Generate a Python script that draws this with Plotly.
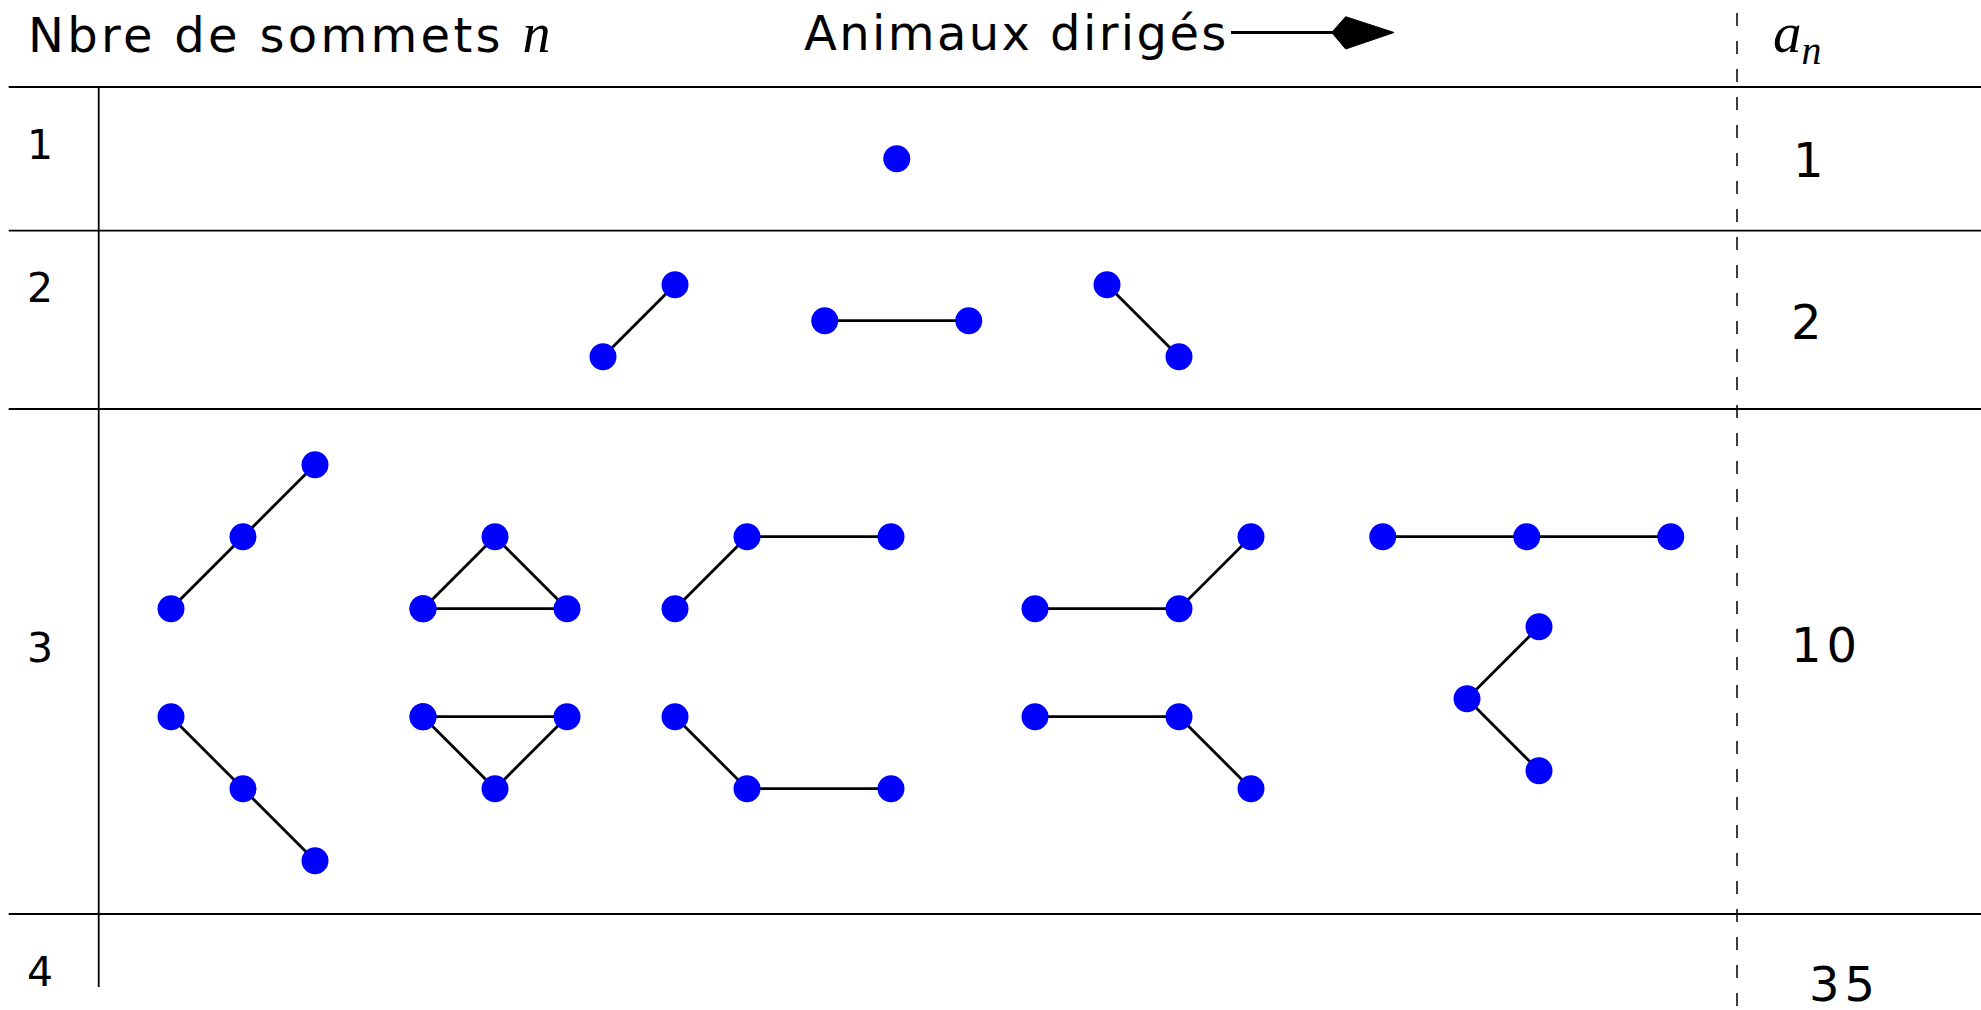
import plotly.graph_objects as go

# ---------------- canvas / grid (1 grid unit = 72 px) ----------------
W, H = 1981, 1010
UNIT = 72.0
X0_PX, Y0_PX = 99.0, 932.7          # pixel position of grid origin


def ux(px):
    return (px - X0_PX) / UNIT


def uy(py):
    return (Y0_PX - py) / UNIT


x_range = [ux(0), ux(W)]
y_range = [uy(H), uy(0)]

# ---------------- data ----------------
row_labels = ["1", "2", "3", "4"]              # n
row_label_y = [145, 288, 648, 972]              # px centres
counts = ["1", "2", "10", "35"]                 # a_n
count_x = [1792, 1790, 1790, 1808]              # px left
count_y = [160, 321.7, 645, 984]                # px centres

# animals (node paths in grid units); consecutive nodes are joined
row1_x = [[11.08]]
row1_y = [[10.75]]

row2_x = [[7.0, 8.0], [10.08, 12.08], [14.0, 15.0]]
row2_y = [[8.0, 9.0], [8.5, 8.5], [9.0, 8.0]]

row3_x = [
    [1, 2, 3], [1, 2, 3],
    [4.5, 5.5, 6.5, 4.5], [4.5, 6.5, 5.5, 4.5],
    [8, 9, 11], [8, 9, 11],
    [13, 15, 16], [13, 15, 16],
    [17.83, 19.83, 21.83], [20, 19, 20],
]
row3_y = [
    [4.5, 5.5, 6.5], [3, 2, 1],
    [4.5, 5.5, 4.5, 4.5], [3, 3, 2, 3],
    [4.5, 5.5, 5.5], [3, 2, 2],
    [4.5, 4.5, 5.5], [3, 3, 2],
    [5.5, 5.5, 5.5], [4.25, 3.25, 2.25],
]

# table rules
hline_y = [uy(87), uy(230.7), uy(409), uy(914)]
hline_x0 = ux(8.7)
vline_x = ux(98.7)
vline_y = [uy(87), uy(987)]
dash_x = ux(1737)
dash_y = [uy(13), uy(H) - 0.2]

# header arrow
arrow_line_x = [ux(1231), ux(1332)]
arrow_line_y = [uy(32.5), uy(32.5)]
arrow_head_x = [ux(1331.7), ux(1345.7), ux(1394), ux(1345.7), ux(1331.7)]
arrow_head_y = [uy(32.5), uy(16.7), uy(32.5), uy(49), uy(32.5)]

BLUE = "#0000ff"
fig = go.Figure()

# table rules
shapes = []
for y in hline_y:
    shapes.append(dict(type="line", xref="x", yref="y", x0=hline_x0, x1=x_range[1],
                       y0=y, y1=y, line=dict(color="black", width=1.8), layer="below"))
shapes.append(dict(type="line", xref="x", yref="y", x0=vline_x, x1=vline_x,
                   y0=vline_y[0], y1=vline_y[1], line=dict(color="black", width=1.8), layer="below"))
shapes.append(dict(type="line", xref="x", yref="y", x0=dash_x, x1=dash_x,
                   y0=dash_y[0], y1=dash_y[1],
                   line=dict(color="black", width=1.5, dash="13px,15px"), layer="below"))

# animals
for xs_list, ys_list in [(row1_x, row1_y), (row2_x, row2_y), (row3_x, row3_y)]:
    for xs, ys in zip(xs_list, ys_list):
        fig.add_trace(go.Scatter(
            x=xs, y=ys, mode="lines+markers",
            line=dict(color="black", width=2.8),
            marker=dict(color=BLUE, size=27, line=dict(width=0)),
            hoverinfo="skip", showlegend=False))

# header arrow
fig.add_trace(go.Scatter(x=arrow_line_x, y=arrow_line_y, mode="lines",
                         line=dict(color="black", width=2.8),
                         hoverinfo="skip", showlegend=False))
fig.add_trace(go.Scatter(x=arrow_head_x, y=arrow_head_y, mode="lines",
                         fill="toself", fillcolor="black",
                         line=dict(color="black", width=1),
                         hoverinfo="skip", showlegend=False))

SANS = "DejaVu Sans"
SERIF = "Liberation Serif"
ann = []
ann.append(dict(
    x=ux(27), y=uy(33), xanchor="left", yanchor="middle",
    text=('<span style="letter-spacing:3.3px">Nbre de sommets </span>'
          '<span style="font-family:Liberation Serif;font-size:56px"><i>n</i></span>'),
    font=dict(family=SANS, size=48, color="black")))
ann.append(dict(
    x=ux(803), y=uy(33.4), xanchor="left", yanchor="middle",
    text='<span style="letter-spacing:2.4px">Animaux dirigés</span>',
    font=dict(family=SANS, size=48, color="black")))
ann.append(dict(
    x=ux(1772), y=uy(37), xanchor="left", yanchor="middle",
    text="<i>a</i><sub><i>n</i></sub>",
    font=dict(family=SERIF, size=57, color="black")))
for lab, py in zip(row_labels, row_label_y):
    ann.append(dict(x=ux(26), y=uy(py), xanchor="left", yanchor="middle",
                    text=lab, font=dict(family=SANS, size=41, color="black")))
for lab, px, py in zip(counts, count_x, count_y):
    ann.append(dict(x=ux(px), y=uy(py), xanchor="left", yanchor="middle",
                    text=f'<span style="letter-spacing:5px">{lab}</span>',
                    font=dict(family=SANS, size=48, color="black")))
for a in ann:
    a.update(showarrow=False, borderpad=0, xref="x", yref="y")

fig.update_layout(
    width=W, height=H,
    margin=dict(l=0, r=0, t=0, b=0, pad=0),
    paper_bgcolor="white", plot_bgcolor="white",
    xaxis=dict(range=x_range, visible=False, fixedrange=True),
    yaxis=dict(range=y_range, visible=False, fixedrange=True),
    shapes=shapes, annotations=ann, showlegend=False,
)

fig.write_html("out.html", config={"displayModeBar": False},
               post_script="document.body.style.margin='0';document.body.style.overflow='hidden';")
